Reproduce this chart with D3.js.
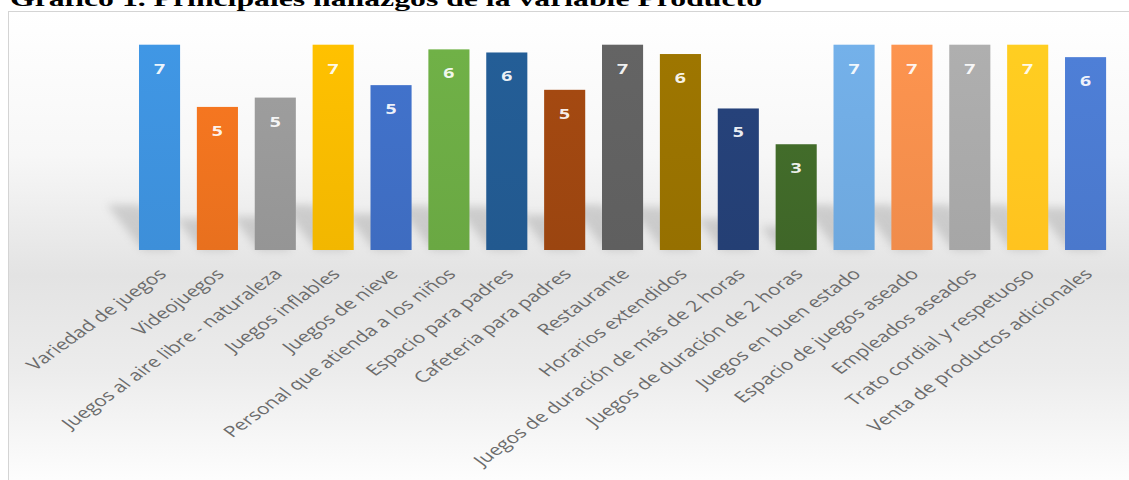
<!DOCTYPE html>
<html>
<head>
<meta charset="utf-8">
<script src="https://cdn.jsdelivr.net/npm/d3@7"></script>
<style>
  body { margin: 0; background: #ffffff; }
</style>
</head>
<body>
<svg id="drawing_region"></svg>
<script>
const categories = [
    "Variedad de juegos", "Videojuegos", "Juegos al aire libre - naturaleza",
    "Juegos inflables", "Juegos de nieve", "Personal que atienda a los niños",
    "Espacio para padres", "Cafeteria para padres", "Restaurante",
    "Horarios extendidos", "Juegos de duración de más de 2 horas",
    "Juegos de duración de 2 horas", "Juegos en buen estado",
    "Espacio de juegos aseado", "Empleados aseados", "Trato cordial y respetuoso",
    "Venta de productos adicionales"
];
const values = [6.6, 4.6, 4.9, 6.6, 5.3, 6.45, 6.35, 5.15, 6.6, 6.3, 4.55, 3.4, 6.6, 6.6, 6.6, 6.6, 6.2];
const colors = [
    "#3d8fd9", "#e8701e", "#959595", "#f2b700", "#3e6cc0", "#6aa843",
    "#22598f", "#9b4510", "#5f5f5f", "#967000", "#243f74", "#3f6628",
    "#6ea8de", "#f08c4b", "#a6a6a6", "#ffc31f", "#4a78cc"
];
const title = "Gráfico 1. Principales hallazgos de la variable Producto";

class BarChart {

    constructor( config ) {
        this.config = config;
        this.init();
    }

    init() {
        let self = this;
        const c = self.config;

        self.svg = d3.select( c.parent )
            .attr('width', c.width)
            .attr('height', c.height);

        const defs = self.svg.append('defs');

        // background fade of the chart area
        const bg = defs.append('linearGradient')
            .attr('id', 'bg')
            .attr('x1', 0).attr('y1', 0).attr('x2', 0).attr('y2', 1);
        [[0, '#ffffff'], [0.3, '#f7f7f7'], [0.55, '#e3e3e3'], [0.75, '#ececec'], [1, '#ffffff']]
            .forEach( s => bg.append('stop').attr('offset', s[0]).attr('stop-color', s[1]) );

        colors.forEach( (col, i) => {
            const g = defs.append('linearGradient')
                .attr('id', 'bar' + i)
                .attr('x1', 0).attr('y1', 0).attr('x2', 0).attr('y2', 1);
            g.append('stop').attr('offset', 0).attr('stop-color', d3.color(col).brighter(0.15));
            g.append('stop').attr('offset', 1).attr('stop-color', col);
        });

        defs.append('filter')
            .attr('id', 'blur')
            .attr('x', '-50%').attr('y', '-50%').attr('width', '200%').attr('height', '200%')
            .append('feGaussianBlur')
            .attr('stdDeviation', 4);

        self.svg.append('rect')
            .attr('x', 8.5).attr('y', 11.5)
            .attr('width', c.width).attr('height', c.height)
            .attr('fill', 'url(#bg)')
            .attr('stroke', '#d4d4d4');

        self.svg.append('text')
            .attr('x', 10)
            .attr('y', 6)
            .attr('font-family', '"Liberation Serif", serif')
            .attr('font-weight', 'bold')
            .attr('font-size', '22px')
            .attr('textLength', 752)
            .attr('lengthAdjust', 'spacingAndGlyphs')
            .attr('fill', '#000')
            .text(title);

        self.chart = self.svg.append('g')
            .attr('transform', `translate(${c.margin.left}, ${c.margin.top})`);

        self.inner_width = c.width - c.margin.left - c.margin.right;
        self.inner_height = c.height - c.margin.top - c.margin.bottom;

        self.xscale = d3.scaleBand()
            .domain( categories )
            .range( [0, self.inner_width] )
            .paddingInner( 0.29 )
            .paddingOuter( 0.145 );

        self.yscale = d3.scaleLinear()
            .domain( [0, d3.max(values)] )
            .range( [self.inner_height, 0] );
    }

    render() {
        let self = this;
        const data = categories.map( (d, i) => ({ name: d, value: values[i], i: i }) );
        const bw = self.xscale.bandwidth();
        const h0 = self.inner_height;
        const fmt = d3.format('.0f');

        // soft perspective shadows behind the bars
        self.chart.selectAll('.shadow')
            .data(data)
            .enter()
            .append('path')
            .attr('class', 'shadow')
            .attr('d', d => {
                const x0 = self.xscale(d.name);
                const sh = (h0 - self.yscale(d.value)) * 0.22;
                return `M${x0 + 4},${h0} L${x0 + bw - 4},${h0} L${x0 + bw - 4 - sh * 0.8},${h0 - sh} L${x0 + 4 - sh * 0.8},${h0 - sh} Z`;
            })
            .attr('fill', '#808080')
            .attr('opacity', 0.3)
            .attr('filter', 'url(#blur)');

        self.chart.selectAll('.bar')
            .data(data)
            .enter()
            .append('rect')
            .attr('class', 'bar')
            .attr('x', d => self.xscale(d.name))
            .attr('y', d => self.yscale(d.value))
            .attr('width', bw)
            .attr('height', d => h0 - self.yscale(d.value))
            .attr('fill', d => `url(#bar${d.i})`);

        self.chart.selectAll('.value')
            .data(data)
            .enter()
            .append('text')
            .attr('class', 'value')
            .attr('transform', d => `translate(${self.xscale(d.name) + bw / 2}, ${self.yscale(d.value) + 29}) scale(1.3,1)`)
            .attr('text-anchor', 'middle')
            .attr('font-family', '"Open Sans", sans-serif')
            .attr('font-weight', 'bold')
            .attr('font-size', '15px')
            .attr('fill', '#ffffff')
            .attr('fill-opacity', 0.92)
            .text(d => fmt(d.value));

        self.chart.selectAll('.xlabel')
            .data(data)
            .enter()
            .append('text')
            .attr('class', 'xlabel')
            .attr('transform', d => `translate(${self.xscale(d.name) + bw / 2 + 8}, ${h0 + 25}) scale(1.376,1) rotate(-45)`)
            .attr('text-anchor', 'end')
            .attr('font-family', '"Open Sans", sans-serif')
            .attr('font-size', '15.3px')
            .attr('fill', '#6b6b6b')
            .text(d => d.name);
    }
}

const config = {
    parent: '#drawing_region',
    width: 1129,
    height: 480,
    margin: {top: 44.7, right: 14.5, bottom: 230, left: 130.6}
};

const bar_chart = new BarChart( config );
bar_chart.render();
</script>
</body>
</html>
